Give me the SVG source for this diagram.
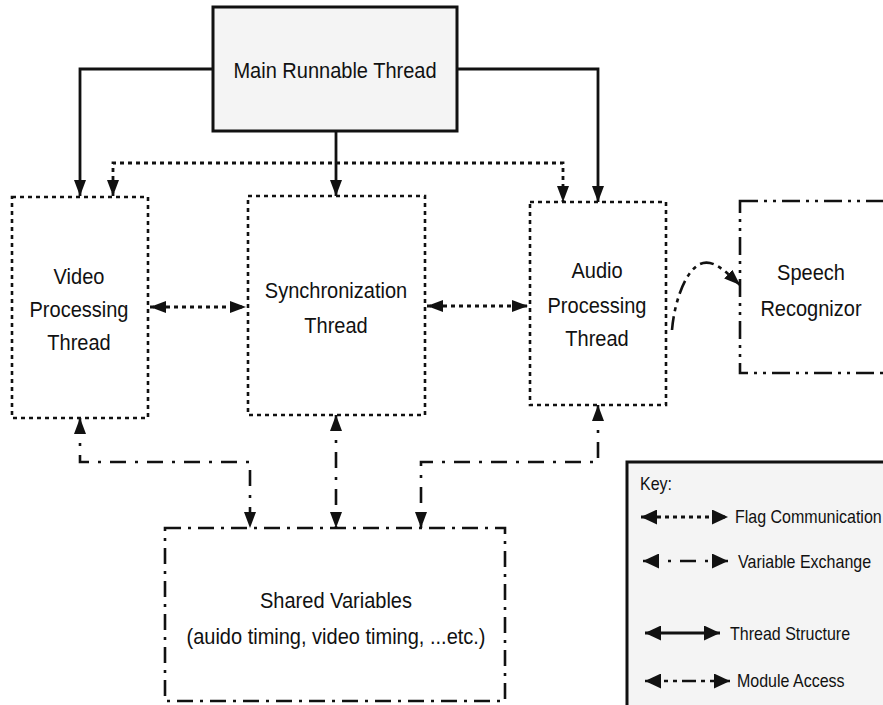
<svg xmlns="http://www.w3.org/2000/svg" width="883" height="705" viewBox="0 0 883 705">
  <style>
    .lbl { font-family: "Liberation Sans", Arial, sans-serif; font-size: 22px; fill: #111; text-anchor: middle; }
    .key { font-family: "Liberation Sans", Arial, sans-serif; font-size: 18px; fill: #111; }
    .box-solid { fill: #f4f4f4; stroke: #111; stroke-width: 3; }
    .box-dot { fill: none; stroke: #111; stroke-width: 2.6; stroke-dasharray: 4 4; }
    .box-dashdot { fill: none; stroke: #111; stroke-width: 2.6; stroke-dasharray: 16 7 3 7; }
    .box-dashdotdot { fill: none; stroke: #111; stroke-width: 2.6; stroke-dasharray: 18 6 3 6 3 6; }
    .thread { fill: none; stroke: #111; stroke-width: 2.8; }
    .flag { fill: none; stroke: #111; stroke-width: 2.8; stroke-dasharray: 4 4; }
    .varx { fill: none; stroke: #111; stroke-width: 2.6; stroke-dasharray: 16 9 3 9; }
    .module { fill: none; stroke: #111; stroke-width: 2.6; stroke-dasharray: 14 5 4 5 4 5; }
  </style>
  <defs>
    <marker id="ah" viewBox="0 0 16 12" refX="16" refY="6" markerWidth="16" markerHeight="12" markerUnits="userSpaceOnUse" orient="auto-start-reverse">
      <path d="M0,0 L16,6 L0,12 z" fill="#111"/>
    </marker>
    <marker id="ahk" viewBox="0 0 16 15" refX="16" refY="7.5" markerWidth="16" markerHeight="15" markerUnits="userSpaceOnUse" orient="auto-start-reverse">
      <path d="M0,0 L16,7.5 L0,15 z" fill="#111"/>
    </marker>
  </defs>

  <rect width="883" height="705" fill="#fff"/>

  <!-- nodes -->
  <g id="main-thread">
    <rect class="box-solid" x="213" y="7" width="244" height="124"/>
    <text class="lbl" transform="translate(335,78) scale(0.91,1)">Main Runnable Thread</text>
  </g>

  <g id="video-thread">
    <rect class="box-dot" x="12" y="197" width="136" height="221"/>
    <text class="lbl" transform="translate(79,284) scale(0.91,1)">Video</text>
    <text class="lbl" transform="translate(79,317) scale(0.91,1)">Processing</text>
    <text class="lbl" transform="translate(79,350) scale(0.91,1)">Thread</text>
  </g>

  <g id="sync-thread">
    <rect class="box-dot" x="248" y="196" width="177" height="219"/>
    <text class="lbl" transform="translate(336,298) scale(0.91,1)">Synchronization</text>
    <text class="lbl" transform="translate(336,333) scale(0.91,1)">Thread</text>
  </g>

  <g id="audio-thread">
    <rect class="box-dot" x="530" y="202" width="136" height="203"/>
    <text class="lbl" transform="translate(597,278) scale(0.91,1)">Audio</text>
    <text class="lbl" transform="translate(597,313) scale(0.91,1)">Processing</text>
    <text class="lbl" transform="translate(597,346) scale(0.91,1)">Thread</text>
  </g>

  <g id="speech-recognizer">
    <rect class="box-dashdotdot" x="740" y="201" width="170" height="172"/>
    <text class="lbl" transform="translate(811,280) scale(0.91,1)">Speech</text>
    <text class="lbl" transform="translate(811,316) scale(0.91,1)">Recognizor</text>
  </g>

  <g id="shared-variables">
    <rect class="box-dashdot" x="165" y="528" width="340" height="173"/>
    <text class="lbl" transform="translate(336,608) scale(0.91,1)">Shared Variables</text>
    <text class="lbl" transform="translate(336,644) scale(0.91,1)">(auido timing, video timing, ...etc.)</text>
  </g>

  <g id="key">
    <rect class="box-solid" x="627" y="462" width="270" height="260"/>
    <text class="key" transform="translate(640,490) scale(0.89,1)">Key:</text>
    <line class="flag" x1="641" y1="517" x2="728" y2="517" marker-start="url(#ahk)" marker-end="url(#ahk)"/>
    <text class="key" transform="translate(735,523) scale(0.89,1)">Flag Communication</text>
    <line class="varx" x1="643" y1="561" x2="728" y2="561" stroke-dasharray="30 10 5 10" marker-start="url(#ahk)" marker-end="url(#ahk)"/>
    <text class="key" transform="translate(738,568) scale(0.89,1)">Variable Exchange</text>
    <line class="thread" x1="645" y1="633" x2="720" y2="633" marker-start="url(#ahk)" marker-end="url(#ahk)"/>
    <text class="key" transform="translate(730,640) scale(0.89,1)">Thread Structure</text>
    <line class="module" x1="645" y1="681" x2="730" y2="681" stroke-dasharray="40 4 5 4 5 4" marker-start="url(#ahk)" marker-end="url(#ahk)"/>
    <text class="key" transform="translate(737,687) scale(0.89,1)">Module Access</text>
  </g>

  <!-- connectors -->
  <g id="connectors">
    <!-- thread structure from the main thread -->
    <path class="thread" d="M213,69 H80 V196" marker-end="url(#ah)"/>
    <path class="thread" d="M457,69 H598 V202" marker-end="url(#ah)"/>
    <path class="thread" d="M336,131 V196" marker-end="url(#ah)"/>

    <!-- flag communication between threads -->
    <path class="flag" d="M113,196 V163 H563 V202" marker-start="url(#ah)" marker-end="url(#ah)"/>
    <line class="flag" x1="150" y1="307" x2="246" y2="307" marker-start="url(#ah)" marker-end="url(#ah)"/>
    <line class="flag" x1="427" y1="306" x2="528" y2="306" marker-start="url(#ah)" marker-end="url(#ah)"/>

    <!-- variable exchange with shared variables -->
    <path class="varx" d="M80,418 V462 H250 V528" marker-start="url(#ah)" marker-end="url(#ah)"/>
    <line class="varx" x1="336" y1="415" x2="336" y2="528" marker-start="url(#ah)" marker-end="url(#ah)"/>
    <path class="varx" d="M598,405 V462 H421 V528" marker-start="url(#ah)" marker-end="url(#ah)"/>

    <!-- module access: audio thread to speech recognizer -->
    <path class="module" d="M672,330 C674,305 684,272 700,264 C713,258 726,272 740,285" marker-end="url(#ah)"/>
  </g>
</svg>
